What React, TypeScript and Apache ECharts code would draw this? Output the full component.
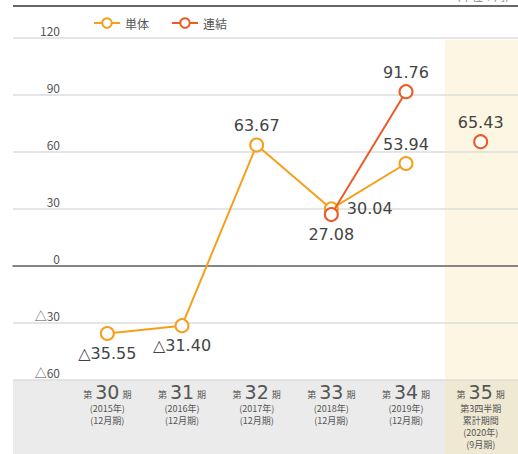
import React, { useEffect, useRef } from "react";
import * as echarts from "echarts";

const categories = ["第30期", "第31期", "第32期", "第33期", "第34期", "第35期"];
const periodNumbers = ["30", "31", "32", "33", "34", "35"];
const periodSubs = [
  ["2015年", "12月期"],
  ["2016年", "12月期"],
  ["2017年", "12月期"],
  ["2018年", "12月期"],
  ["2019年", "12月期"],
  ["2020年", "9月期"],
];
const singleValues = [-35.55, -31.4, 63.67, 30.04, 53.94, null];
const consolidatedValues = [null, null, null, 27.08, 91.76, null];
const consolidatedCurrent = [null, null, null, null, null, 65.43];
const yTicks = { min: -60, max: 120, interval: 30 };

const singleLabelPos = ["bottom", "bottom", "top", "right", "top", "top"];
const consolidatedLabelPos = ["top", "top", "top", "bottom", "top", "top"];

const ORANGE = "#f5a01c";
const RED = "#ec5a25";
const FONT = "'Noto Sans CJK JP', 'Noto Sans', sans-serif";
const NUM_FONT = "'DejaVu Sans', 'Noto Sans CJK JP', sans-serif";

const fmt = (v: number) => (v < 0 ? "△" + Math.abs(v).toFixed(2) : v.toFixed(2));

export default function App() {
  const ref = useRef<HTMLDivElement>(null);
  useEffect(() => {
    if (!ref.current) return;
    const chart = echarts.init(ref.current, undefined, { renderer: "svg" });
    const labelBase = {
      show: true,
      fontSize: 16,
      color: "#444",
      fontFamily: NUM_FONT,
      formatter: (p: any) => fmt(p.value),
    };
    const mk = (vals: (number | null)[], pos: string[]) =>
      vals.map((v, i) =>
        v === null ? null : { value: v, label: { position: pos[i], distance: pos[i] === "right" ? 8 : 4 } }
      );
    const sym = { symbol: "circle", symbolSize: 13 };
    const option: any = {
      animation: false,
      textStyle: { fontFamily: FONT },
      legend: {
        data: ["単体", "連結"],
        left: 88,
        top: 12,
        itemWidth: 26,
        itemHeight: 12,
        itemGap: 22,
        textStyle: { fontSize: 12, color: "#555", fontFamily: FONT },
      },
      graphic: [
        { type: "rect", z: -1, shape: { x: 13, y: 380, width: 432, height: 74 }, style: { fill: "#ebebeb" } },
        { type: "rect", z: -1, shape: { x: 445, y: 40, width: 80, height: 340 }, style: { fill: "#fdf6e2" } },
        { type: "rect", z: -1, shape: { x: 445, y: 380, width: 80, height: 74 }, style: { fill: "#efe9d4" } },
        { type: "line", z: 5, shape: { x1: 13, y1: 6, x2: 518, y2: 6 }, style: { stroke: "#666", lineWidth: 2 } },
        {
          type: "text",
          right: 2,
          top: -10,
          style: { text: "（単位：円）", fontSize: 11, fill: "#888", fontFamily: FONT },
        },
      ],
      grid: [
        { left: 13, right: 0, top: 38, bottom: 74 },
        { left: 70, right: -2, top: 38, bottom: 74 },
      ],
      xAxis: [
        {
          gridIndex: 0,
          type: "value",
          min: 0,
          max: 1,
          axisLabel: { show: false },
          axisTick: { show: false },
          splitLine: { show: false },
          axisLine: { show: true, onZero: true, lineStyle: { color: "#666", width: 1.5 } },
        },
        {
          gridIndex: 1,
          type: "category",
          data: categories,
          boundaryGap: true,
          axisLine: { show: false },
          axisTick: { show: false },
          axisLabel: {
            margin: 2,
            interval: 0,
            color: "#555",
            fontFamily: FONT,
            formatter: (_v: string, i: number) => {
              const [y, m] = periodSubs[i];
              let s = `{a|第}{b|${periodNumbers[i]}}{a|期}`;
              if (i === 5) s += `\n{c|第3四半期}\n{c|累計期間}`;
              s += `\n{p|(}{c|${y}}{p|)}\n{p|(}{c|${m}}{p|)}`;
              return s;
            },
            rich: {
              a: { fontSize: 9, color: "#555", fontFamily: FONT, padding: [5, 3, 0, 3] },
              b: { fontSize: 19, color: "#555", fontFamily: NUM_FONT, lineHeight: 20 },
              c: { fontSize: 9, color: "#555", fontFamily: FONT, lineHeight: 12 },
              p: { fontSize: 9, color: "#555", fontFamily: FONT, lineHeight: 12 },
            },
          },
        },
      ],
      yAxis: [
        {
          gridIndex: 0,
          type: "value",
          min: yTicks.min,
          max: yTicks.max,
          interval: yTicks.interval,
          axisLine: { show: false },
          axisTick: { show: false },
          splitLine: { show: true, lineStyle: { color: "#dcdcdc", width: 1.5 } },
          axisLabel: {
            inside: true,
            margin: 47,
            align: "right",
            verticalAlign: "bottom",
            padding: [0, 0, 2, 0],
            fontSize: 12,
            color: "#555",
            fontFamily: FONT,
            formatter: (v: number) => (v < 0 ? "△" + Math.abs(v) : String(v)),
          },
        },
        {
          gridIndex: 1,
          type: "value",
          min: yTicks.min,
          max: yTicks.max,
          interval: yTicks.interval,
          show: false,
          splitLine: { show: false },
        },
      ],
      series: [
        {
          name: "単体",
          type: "line",
          xAxisIndex: 1,
          yAxisIndex: 1,
          data: mk(singleValues, singleLabelPos),
          ...sym,
          color: ORANGE,
          lineStyle: { color: ORANGE, width: 2 },
          itemStyle: { color: "#fff", borderColor: ORANGE, borderWidth: 2 },
          label: labelBase,
          z: 3,
        },
        {
          name: "連結",
          type: "line",
          xAxisIndex: 1,
          yAxisIndex: 1,
          data: mk(consolidatedValues, consolidatedLabelPos),
          ...sym,
          color: RED,
          lineStyle: { color: RED, width: 2 },
          itemStyle: { color: "#fff", borderColor: RED, borderWidth: 2 },
          label: labelBase,
          z: 4,
        },
        {
          name: "連結",
          type: "line",
          xAxisIndex: 1,
          yAxisIndex: 1,
          data: mk(consolidatedCurrent, consolidatedLabelPos),
          ...sym,
          color: RED,
          lineStyle: { color: RED, width: 2 },
          itemStyle: { color: "#fff", borderColor: RED, borderWidth: 2 },
          label: labelBase,
          z: 4,
        },
      ],
    };
    chart.setOption(option);
    return () => chart.dispose();
  }, []);
  return (
    <div
      ref={ref}
      style={{ position: "absolute", left: 0, top: 0, width: 518, height: 454, background: "#fff" }}
    />
  );
}
